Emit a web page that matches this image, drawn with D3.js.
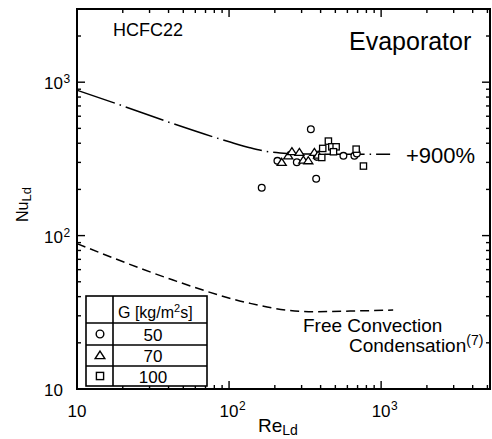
<!DOCTYPE html>
<html><head><meta charset="utf-8">
<script src="https://cdn.jsdelivr.net/npm/d3@7"></script>
<style>
body{margin:0;background:#fff}
svg{display:block}
text{font-family:"Liberation Sans",Arial,sans-serif;fill:#000}
</style>
</head><body>
<svg id="c" width="492" height="439"></svg>
<script>
// ---- data ----
const xDomain = [10, 5200];
const yDomain = [10, 3000];
const xTickLabels = [10, 100, 1000];
const yTickLabels = [10, 100, 1000];

const g50Re = [164, 208, 279, 345, 374, 378, 565, 667, 692];
const g50Nu = [205, 307, 301, 494, 235, 326, 331, 331, 343];
const g70Re = [222, 245, 259, 290, 308, 332, 364, 385];
const g70Nu = [300, 330, 352, 348, 310, 307, 348, 334];
const g100Re = [407, 413, 450, 474, 506, 486, 685, 765];
const g100Nu = [323, 370, 413, 379, 379, 352, 366, 284];

const corrRe = [10, 19.8, 42.8, 101.6, 137, 172.5, 217, 293, 1146];
const corrNu = [887, 703, 537, 407, 374, 355, 345, 340, 339];
const freeRe = [10, 16.5, 42.8, 137, 252, 379, 625, 1200];
const freeNu = [88.7, 72.8, 51.3, 36.2, 32.5, 31.9, 32.2, 32.7];

const legendValues = ["50", "70", "100"];
const legendShapes = ["circle", "triangle", "square"];

// ---- scales ----
const L = 77, R = 490, T = 9, B = 389;
const x = d3.scaleLog().domain(xDomain).range([L, R]);
const y = d3.scaleLog().domain(yDomain).range([B, T]);
const svg = d3.select("#c");

// frame
svg.append("rect").attr("x", L).attr("y", T).attr("width", R - L).attr("height", B - T)
  .attr("fill", "none").attr("stroke", "#000").attr("stroke-width", 2);

const isMajor = v => Math.abs(Math.log10(v) - Math.round(Math.log10(v))) < 1e-9;
const xt = x.ticks().filter(v => v > xDomain[0] && v < xDomain[1]);
const yt = y.ticks().filter(v => v > yDomain[0] && v < yDomain[1]);
const tg = svg.append("g").attr("stroke", "#000").attr("stroke-width", 1.4);
xt.forEach(v => {
  const len = isMajor(v) ? 8 : 4;
  tg.append("line").attr("x1", x(v)).attr("x2", x(v)).attr("y1", B).attr("y2", B - len);
  tg.append("line").attr("x1", x(v)).attr("x2", x(v)).attr("y1", T).attr("y2", T + len);
});
yt.forEach(v => {
  const len = isMajor(v) ? 8 : 4;
  tg.append("line").attr("y1", y(v)).attr("y2", y(v)).attr("x1", L).attr("x2", L + len);
  tg.append("line").attr("y1", y(v)).attr("y2", y(v)).attr("x1", R).attr("x2", R - len);
});

// tick labels
xTickLabels.forEach(v => {
  const e = Math.round(Math.log10(v));
  const t = svg.append("text").attr("x", x(v)).attr("y", 417).attr("text-anchor", "middle")
    .attr("font-size", 17).text("10");
  if (e > 1) {
    const w = t.node().getComputedTextLength();
    svg.append("text").attr("x", x(v) + w / 2 + 0.5).attr("y", 410).attr("font-size", 12).text(e);
  }
});
yTickLabels.forEach(v => {
  const e = Math.round(Math.log10(v));
  svg.append("text").attr("x", 63).attr("y", y(v) + 7).attr("text-anchor", "end")
    .attr("font-size", 17).text("10");
  if (e > 1) svg.append("text").attr("x", 63.5).attr("y", y(v) + 1).attr("font-size", 12).text(e);
});

// axis titles
const xl = svg.append("text").attr("x", 258).attr("y", 432).attr("font-size", 19);
xl.append("tspan").text("Re");
xl.append("tspan").attr("font-size", 14).attr("dy", 3).text("Ld");
const yl = svg.append("text").attr("transform", "translate(28,222) rotate(-90)").attr("font-size", 16);
yl.append("tspan").text("Nu");
yl.append("tspan").attr("font-size", 13).attr("dy", 3).text("Ld");

// curves
const line = d3.line().x(d => x(d[0])).y(d => y(d[1])).curve(d3.curveMonotoneX);
svg.append("path").attr("d", line(corrRe.map((r, i) => [r, corrNu[i]])))
  .attr("fill", "none").attr("stroke", "#000").attr("stroke-width", 1.5)
  .attr("stroke-dasharray", "40,5,1.5,5");
svg.append("path").attr("d", line(freeRe.map((r, i) => [r, freeNu[i]])))
  .attr("fill", "none").attr("stroke", "#000").attr("stroke-width", 1.5)
  .attr("stroke-dasharray", "9,5");

// markers
function marker(g, shape, cx, cy, s) {
  if (shape === "circle") g.append("circle").attr("cx", cx).attr("cy", cy).attr("r", s * 0.48);
  else if (shape === "square") g.append("rect").attr("x", cx - s * 0.45).attr("y", cy - s * 0.45)
    .attr("width", s * 0.9).attr("height", s * 0.9);
  else {
    const h = s * 0.55;
    g.append("path").attr("d", `M${cx},${cy - h}L${cx + h * 1.1},${cy + h * 0.7}L${cx - h * 1.1},${cy + h * 0.7}Z`);
  }
}
const mg = svg.append("g").attr("fill", "#fff").attr("stroke", "#000").attr("stroke-width", 1.3);
g50Re.forEach((r, i) => marker(mg, "circle", x(r), y(g50Nu[i]), 7));
g70Re.forEach((r, i) => marker(mg, "triangle", x(r), y(g70Nu[i]), 7.5));
g100Re.forEach((r, i) => marker(mg, "square", x(r), y(g100Nu[i]), 7));

// annotations
svg.append("text").attr("x", 113).attr("y", 36).attr("font-size", 18).text("HCFC22");
svg.append("text").attr("x", 349).attr("y", 50).attr("font-size", 25).text("Evaporator");
svg.append("text").attr("x", 406).attr("y", 163).attr("font-size", 22).text("+900%");
svg.append("text").attr("x", 303).attr("y", 332).attr("font-size", 19).text("Free Convection");
const cd = svg.append("text").attr("x", 349).attr("y", 352).attr("font-size", 19);
cd.append("tspan").text("Condensation");
cd.append("tspan").attr("font-size", 14).attr("dy", -7).text("(7)");

// legend table
const lg = svg.append("g");
const tx0 = 86, tx1 = 113, tx2 = 207, rows = [296, 323, 345, 366, 386];
lg.append("rect").attr("x", tx0).attr("y", rows[0]).attr("width", tx2 - tx0).attr("height", rows[4] - rows[0])
  .attr("fill", "#fff").attr("stroke", "#000").attr("stroke-width", 1.6);
lg.append("line").attr("x1", tx1).attr("x2", tx1).attr("y1", rows[0]).attr("y2", rows[4])
  .attr("stroke", "#000").attr("stroke-width", 1.6);
rows.slice(1, 4).forEach(r => lg.append("line").attr("x1", tx0).attr("x2", tx2).attr("y1", r).attr("y2", r)
  .attr("stroke", "#000").attr("stroke-width", 1.6));
const hd = lg.append("text").attr("x", 118).attr("y", 318).attr("font-size", 16);
hd.append("tspan").text("G [kg/m");
hd.append("tspan").attr("font-size", 11).attr("dy", -6).text("2");
hd.append("tspan").attr("dy", 6).text("s]");
const lmg = lg.append("g").attr("fill", "#fff").attr("stroke", "#000").attr("stroke-width", 1.4);
legendValues.forEach((v, i) => {
  const cy = (rows[i + 1] + rows[i + 2]) / 2;
  marker(lmg, legendShapes[i], 100, cy, 8);
  lg.append("text").attr("x", 153).attr("y", cy + 6.5).attr("text-anchor", "middle")
    .attr("font-size", 17).text(v);
});
</script>
</body></html>
